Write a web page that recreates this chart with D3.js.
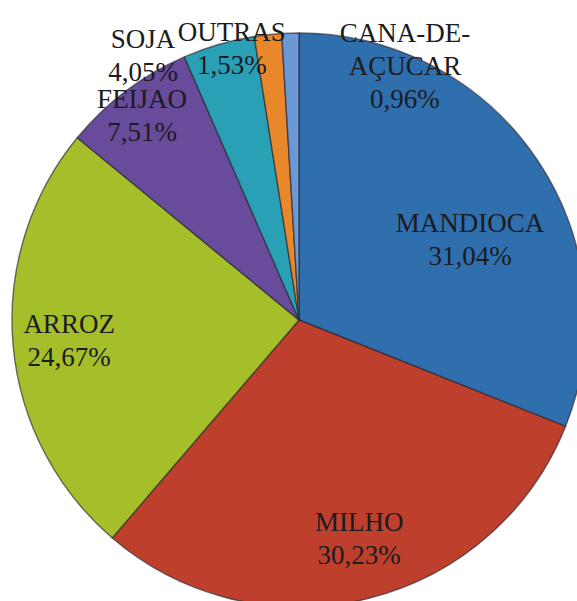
<!DOCTYPE html>
<html>
<head>
<meta charset="utf-8">
<script src="https://cdn.jsdelivr.net/npm/d3@7"></script>
<style>
  html, body { margin: 0; padding: 0; background: #ffffff; }
  svg { display: block; }
</style>
</head>
<body>
<svg id="chart" width="577" height="601"></svg>
<script>
// Share of cultivated area by crop (%)
const categories = ["MANDIOCA", "MILHO", "ARROZ", "FEIJAO", "SOJA", "OUTRAS", "CANA-DE-AÇUCAR"];
const values = [31.04, 30.23, 24.67, 7.51, 4.05, 1.53, 0.96];
const colors = ["#306fad", "#be3f2c", "#a4bf2a", "#684b9a", "#29a0b5", "#e9882b", "#6b99d5"];

// Label placement around the pie: polar angle (degrees, clockwise from 12 o'clock)
// and distance as a fraction of the radius
const labelAngles = [64.9, 164.6, 265.0, 322.5, 329.5, 346.1, 22.65];
const labelRadii = [0.658, 0.790, 0.804, 0.898, 1.071, 0.974, 0.959];

const width = 577, height = 601;
const cx = 299, cy = 320, R = 287;
const lineGap = 33;

const ptBR = d3.formatLocale({ decimal: ",", thousands: ".", grouping: [3], currency: ["R$", ""] });
const pct = ptBR.format(".2f");

const data = categories.map((c, i) => ({ name: c, value: values[i], color: colors[i], i }));

const pie = d3.pie()
  .value(d => d.value)
  .sort(null)
  .startAngle(0)
  .endAngle(2 * Math.PI);

const arc = d3.arc().innerRadius(0).outerRadius(R);

const svg = d3.select("#chart");
const g = svg.append("g").attr("transform", `translate(${cx},${cy})`);

g.selectAll("path.slice")
  .data(pie(data))
  .join("path")
  .attr("class", "slice")
  .attr("d", arc)
  .attr("fill", d => d.data.color)
  .attr("stroke", "#262630")
  .attr("stroke-opacity", 0.65)
  .attr("stroke-width", 1.4)
  .attr("stroke-linejoin", "round");

// Split long names after their last hyphen
function labelLines(d) {
  const lines = [];
  if (d.name.length > 10 && d.name.lastIndexOf("-") > 0) {
    const k = d.name.lastIndexOf("-", d.name.length - 2);
    lines.push(d.name.slice(0, k + 1), d.name.slice(k + 1));
  } else {
    lines.push(d.name);
  }
  lines.push(pct(d.value) + "%");
  return lines;
}

g.selectAll("text.label")
  .data(data)
  .join("text")
  .attr("class", "label")
  .attr("font-family", "'Liberation Serif', 'Times New Roman', serif")
  .attr("font-size", 27)
  .attr("fill", "#1b1b22")
  .attr("text-anchor", "middle")
  .each(function (d) {
    const a = labelAngles[d.i] * Math.PI / 180;
    const r = labelRadii[d.i] * R;
    const x = r * Math.sin(a);
    const y = -r * Math.cos(a);
    const lines = labelLines(d);
    const n = lines.length;
    d3.select(this).selectAll("tspan")
      .data(lines)
      .join("tspan")
      .attr("x", x)
      .attr("y", (t, j) => y + (j - (n - 1) / 2) * lineGap + 9)
      .text(t => t);
  });
</script>
</body>
</html>
